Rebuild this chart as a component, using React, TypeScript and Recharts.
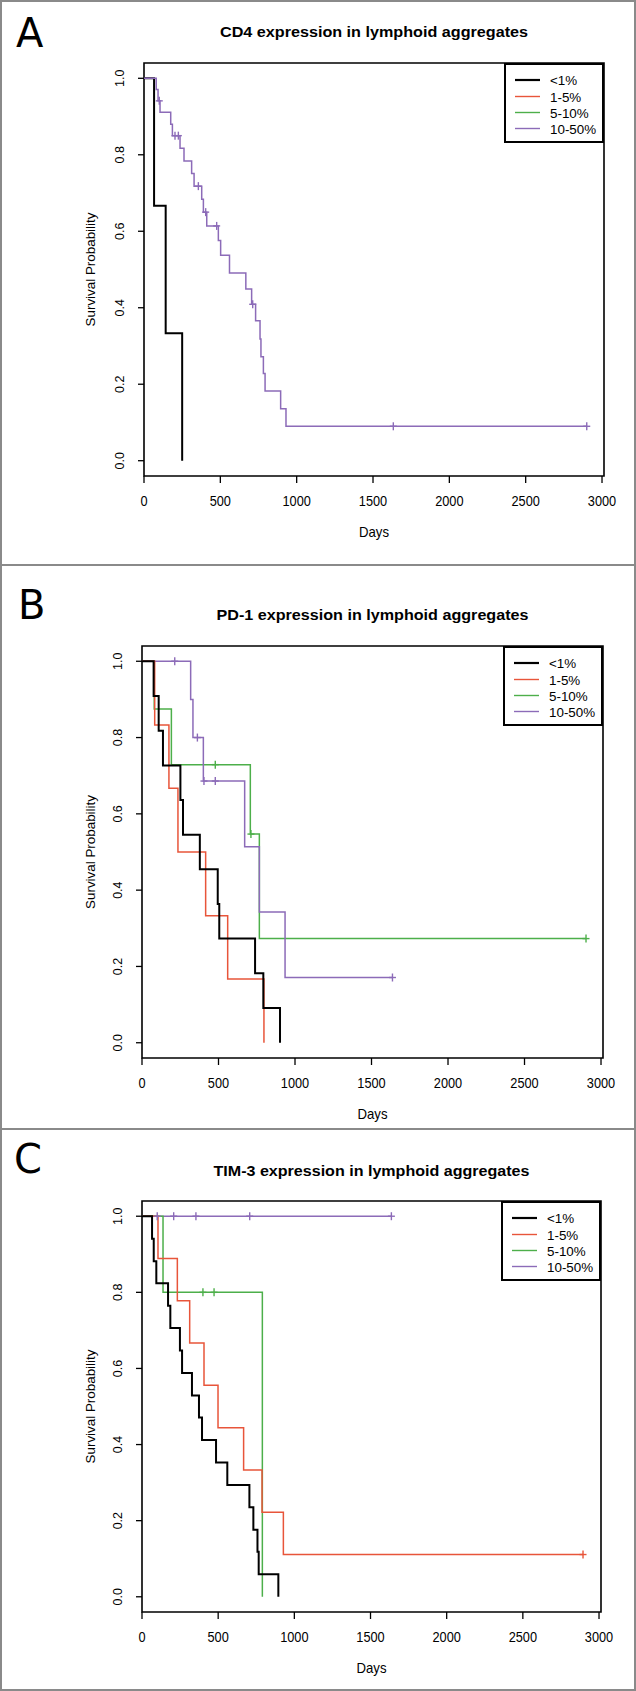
import React from 'react'
import { ComposedChart, Line, XAxis, YAxis, ReferenceArea, Legend, Label } from 'recharts'

type Step = [number, number]

const groups = ['<1%', '1-5%', '5-10%', '10-50%']
const groupColors = ['#000000', '#E8553A', '#4DAF4A', '#8C6BB8']
const dayTicks = [0, 500, 1000, 1500, 2000, 2500, 3000]
const probTicks = [0, 0.2, 0.4, 0.6, 0.8, 1]

// A: CD4 — step points [day, survival], censored days
const cd4Low: Step[] = [[0, 1], [66, 0.667], [142, 0.333], [250, 0]]
const cd4High: Step[] = [
  [0, 1], [80, 0.971], [92, 0.941], [105, 0.911], [175, 0.88], [186, 0.85], [236, 0.817],
  [262, 0.784], [312, 0.751], [328, 0.718], [378, 0.684], [389, 0.65], [411, 0.614],
  [487, 0.576], [502, 0.537], [560, 0.491], [667, 0.449], [705, 0.409], [731, 0.366],
  [760, 0.318], [766, 0.272], [782, 0.228], [793, 0.182], [895, 0.136], [930, 0.09],
]
const cd4HighCens = [100, 203, 225, 356, 404, 476, 712, 1633, 2900]

// B: PD-1
const pd1Low: Step[] = [
  [0, 1], [76, 0.909], [109, 0.818], [137, 0.727], [251, 0.636], [268, 0.545],
  [378, 0.455], [495, 0.364], [505, 0.273], [739, 0.182], [793, 0.091], [902, 0],
]
const pd1Mid: Step[] = [[0, 1], [83, 0.833], [176, 0.667], [235, 0.5], [416, 0.333], [560, 0.167], [797, 0]]
const pd1Upper: Step[] = [[0, 1], [80, 0.875], [192, 0.729], [708, 0.547], [767, 0.273]]
const pd1UpperCens = [479, 712, 2902]
const pd1High: Step[] = [[0, 1], [318, 0.9], [333, 0.8], [401, 0.686], [671, 0.514], [767, 0.343], [935, 0.171]]
const pd1HighCens = [214, 362, 405, 479, 1637]

// C: TIM-3
const tim3Low: Step[] = [
  [0, 1], [66, 0.941], [77, 0.882], [94, 0.824], [171, 0.765], [186, 0.706], [249, 0.647],
  [263, 0.588], [328, 0.529], [374, 0.471], [394, 0.412], [486, 0.353], [560, 0.294],
  [705, 0.235], [731, 0.176], [758, 0.118], [766, 0.059], [895, 0],
]
const tim3Mid: Step[] = [
  [0, 1], [105, 0.889], [232, 0.778], [313, 0.667], [407, 0.556], [499, 0.444],
  [667, 0.333], [788, 0.222], [928, 0.111],
]
const tim3MidCens = [2895]
const tim3Upper: Step[] = [[0, 1], [138, 0.8], [790, 0]]
const tim3UpperCens = [400, 473]
const tim3High: Step[] = [[0, 1]]
const tim3HighCens = [100, 208, 354, 707, 1637]

interface Pt { t: number; s: number; c: boolean }

// merge censor marks into the step curve, at the level the curve is on at that day
function curve(steps: Step[], cens: number[] = []): Pt[] {
  const pts: Pt[] = steps.map(([t, s]) => ({ t, s, c: false }))
  cens.forEach((tc) => {
    let level = steps[0][1]
    steps.forEach(([t, s]) => {
      if (t <= tc) level = s
    })
    pts.push({ t: tc, s: level, c: true })
  })
  return pts.sort((a, b) => a.t - b.t)
}

const panels = [
  {
    letter: 'A', title: 'CD4 expression in lymphoid aggregates', titleW: 308,
    top: 0, height: 566, letterX: 16, letterY: 47, titleY: 37,
    plot: { left: 144, right: 604, top: 63, bottom: 476 },
    curves: [
      { g: 0, pts: curve(cd4Low) },
      { g: 3, pts: curve(cd4High, cd4HighCens) },
    ],
  },
  {
    letter: 'B', title: 'PD-1 expression in lymphoid aggregates', titleW: 312,
    top: 566, height: 564, letterX: 18, letterY: 53, titleY: 54,
    plot: { left: 142, right: 603, top: 80, bottom: 492 },
    curves: [
      { g: 2, pts: curve(pd1Upper, pd1UpperCens) },
      { g: 3, pts: curve(pd1High, pd1HighCens) },
      { g: 1, pts: curve(pd1Mid) },
      { g: 0, pts: curve(pd1Low) },
    ],
  },
  {
    letter: 'C', title: 'TIM-3 expression in lymphoid aggregates', titleW: 316,
    top: 1130, height: 561, letterX: 14, letterY: 43, titleY: 46,
    plot: { left: 142, right: 601, top: 71, bottom: 482 },
    curves: [
      { g: 3, pts: curve(tim3High, tim3HighCens) },
      { g: 2, pts: curve(tim3Upper, tim3UpperCens) },
      { g: 1, pts: curve(tim3Mid, tim3MidCens) },
      { g: 0, pts: curve(tim3Low) },
    ],
  },
]

const FONT = '"Liberation Sans", Arial, sans-serif'
const Y_AXIS_W = 60
const X_AXIS_H = 60
const FRAME = '#8a8a8a'

function censorDot(color: string) {
  return (props: any) => {
    const { cx, cy, payload, index } = props
    if (!payload || !payload.c) return <g key={`d${index}`} />
    return (
      <g key={`d${index}`} stroke={color} strokeWidth={1.4}>
        <line x1={cx} y1={cy - 4} x2={cx} y2={cy + 4} />
        <line x1={cx - 3.5} y1={cy} x2={cx + 3.5} y2={cy} />
      </g>
    )
  }
}

function LegendBox() {
  const rows = [17, 33.5, 49.5, 65.5]
  return (
    <div
      style={{
        width: 100, height: 80, boxSizing: 'border-box', border: '2px solid #000',
        background: '#fff', position: 'relative', fontFamily: FONT,
      }}
    >
      <svg width={100} height={80} style={{ position: 'absolute', left: -2, top: -2 }}>
        {groups.map((g, i) => (
          <g key={g}>
            <line x1={11} x2={36} y1={rows[i]} y2={rows[i]} stroke={groupColors[i]} strokeWidth={i === 0 ? 2.2 : 1.4} />
            <text x={46} y={rows[i] + 5} fontSize={13.4} fontFamily={FONT} fill="#000">{g}</text>
          </g>
        ))}
      </svg>
    </div>
  )
}

function Panel({ p }: { p: (typeof panels)[number] }) {
  const margin = {
    top: p.plot.top,
    left: p.plot.left - Y_AXIS_W,
    right: 636 - p.plot.right,
    bottom: p.height - p.plot.bottom - X_AXIS_H,
  }
  const midX = (p.plot.left + p.plot.right) / 2
  const midY = (p.plot.top + p.plot.bottom) / 2
  return (
    <div style={{ position: 'absolute', left: 0, top: p.top, width: 636, height: p.height }}>
      <ComposedChart width={636} height={p.height} margin={margin}>
        <XAxis
          type="number" dataKey="t" domain={[0, 3013]} ticks={dayTicks} allowDataOverflow
          height={X_AXIS_H} axisLine={false} tickSize={7} interval={0}
          tickLine={{ stroke: '#000', strokeWidth: 1.3 }}
          tick={(tp: any) => (
            <text
              x={tp.x} y={p.plot.bottom + 30} textAnchor="middle" fontSize={14.5} fontFamily={FONT}
              fill="#000" textLength={String(tp.payload.value).length * 7.1} lengthAdjust="spacingAndGlyphs"
            >
              {tp.payload.value}
            </text>
          )}
        >
          <Label
            content={() => (
              <text
                x={midX} y={p.plot.bottom + 61} textAnchor="middle" fontSize={15} fontFamily={FONT}
                fill="#000" textLength={30} lengthAdjust="spacingAndGlyphs"
              >
                Days
              </text>
            )}
          />
        </XAxis>
        <YAxis
          type="number" dataKey="s" domain={[-0.04, 1.04]} ticks={probTicks} allowDataOverflow
          width={Y_AXIS_W} axisLine={false} tickSize={6} interval={0}
          tickLine={{ stroke: '#000', strokeWidth: 1.3 }}
          tick={(tp: any) => {
            const bx = p.plot.left - 20
            return (
              <text
                x={bx} y={tp.y} transform={`rotate(-90 ${bx} ${tp.y})`} textAnchor="middle"
                fontSize={12.5} fontFamily={FONT} fill="#000"
              >
                {Number(tp.payload.value).toFixed(1)}
              </text>
            )
          }}
        >
          <Label
            content={() => (
              <text
                x={95} y={midY} transform={`rotate(-90 95 ${midY})`} textAnchor="middle"
                fontSize={13.4} fontFamily={FONT} fill="#000"
              >
                Survival Probability
              </text>
            )}
          />
        </YAxis>
        <ReferenceArea
          x1={0} x2={3013} y1={-0.04} y2={1.04} fill="none" fillOpacity={0}
          stroke="#000" strokeWidth={1.6} ifOverflow="visible"
        />
        {p.curves.map((c) => (
          <Line
            key={c.g}
            data={c.pts}
            dataKey="s"
            name={groups[c.g]}
            type="stepAfter"
            stroke={groupColors[c.g]}
            strokeWidth={c.g === 0 ? 2 : 1.5}
            dot={censorDot(groupColors[c.g])}
            activeDot={false}
            isAnimationActive={false}
          />
        ))}
        <Legend
          layout="horizontal" verticalAlign="middle" align="center"
          wrapperStyle={{ left: p.plot.right - 100, top: p.plot.top, width: 100, height: 80 }}
          content={() => <LegendBox />}
        />
      </ComposedChart>
      <svg
        width={636} height={p.height}
        style={{ position: 'absolute', left: 0, top: 0, pointerEvents: 'none' }}
      >
        <text x={p.letterX} y={p.letterY} fontSize={40} fontFamily='"DejaVu Sans", sans-serif' fill="#000">
          {p.letter}
        </text>
        <text
          x={midX} y={p.titleY} textAnchor="middle" fontSize={15} fontWeight="bold" fontFamily={FONT}
          fill="#000" textLength={p.titleW} lengthAdjust="spacingAndGlyphs"
        >
          {p.title}
        </text>
      </svg>
    </div>
  )
}

export default function App() {
  return (
    <div style={{ position: 'absolute', left: 0, top: 0, width: 636, height: 1691, background: '#fff' }}>
      {panels.map((p) => (
        <Panel key={p.letter} p={p} />
      ))}
      {/* figure frame and panel separators */}
      <div style={{ position: 'absolute', left: 0, top: 0, width: 636, height: 1691, boxSizing: 'border-box', border: `2px solid ${FRAME}` }} />
      <div style={{ position: 'absolute', left: 0, top: 564, width: 636, height: 2, background: FRAME }} />
      <div style={{ position: 'absolute', left: 0, top: 1128, width: 636, height: 2, background: FRAME }} />
    </div>
  )
}
